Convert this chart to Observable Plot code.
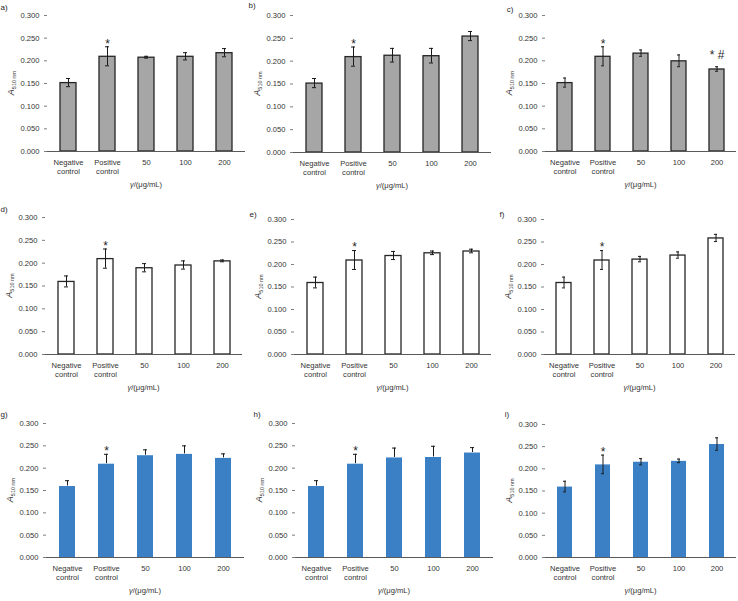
<!DOCTYPE html>
<html><head><meta charset="utf-8">
<script src="https://cdn.jsdelivr.net/npm/d3@7"></script>
<script src="https://cdn.jsdelivr.net/npm/@observablehq/plot@0.6"></script>
<style>
body{margin:0;background:#fff;}
#wrap{position:relative;width:738px;height:601px;overflow:hidden;font-family:"Liberation Sans",Arial,sans-serif;}
#wrap svg{position:absolute;overflow:visible;}
</style></head><body><div id="wrap"></div>
<script>
// ---- data ----
const categories = ["Negative\ncontrol", "Positive\ncontrol", "50", "100", "200"];
const yTicks = [0, 0.05, 0.1, 0.15, 0.2, 0.25, 0.3];
const panelNames = ["a)", "b)", "c)", "d)", "e)", "f)", "g)", "h)", "i)"];
const xTitleSymbol = "γ";
const xTitleUnit = "/(μg/mL)";
const yTitleMain = "A";
const yTitleSub = "510 nm";

const meansA = [0.152, 0.210, 0.208, 0.210, 0.218];
const errsA  = [0.009, 0.021, 0.002, 0.008, 0.009];
const meansB = [0.152, 0.210, 0.213, 0.212, 0.255];
const errsB  = [0.010, 0.021, 0.015, 0.016, 0.010];
const meansC = [0.152, 0.210, 0.217, 0.200, 0.182];
const errsC  = [0.010, 0.021, 0.007, 0.013, 0.005];
const meansD = [0.160, 0.210, 0.190, 0.196, 0.205];
const errsD  = [0.012, 0.021, 0.009, 0.009, 0.002];
const meansE = [0.160, 0.210, 0.220, 0.226, 0.230];
const errsE  = [0.012, 0.021, 0.009, 0.004, 0.004];
const meansF = [0.160, 0.210, 0.212, 0.221, 0.259];
const errsF  = [0.012, 0.021, 0.006, 0.007, 0.008];
const meansG = [0.160, 0.210, 0.229, 0.232, 0.223];
const errsG  = [0.012, 0.021, 0.012, 0.018, 0.009];
const meansH = [0.160, 0.210, 0.224, 0.225, 0.235];
const errsH  = [0.012, 0.021, 0.021, 0.024, 0.011];
const meansI = [0.160, 0.210, 0.216, 0.218, 0.256];
const errsI  = [0.012, 0.021, 0.007, 0.004, 0.014];

const annotStd = ["", "*", "", "", ""];
const annotC   = ["", "*", "", "", "* #"];

// ---- styles & layout ----
const styles = {
  gray:  {fill: "#a6a6a6", stroke: "#262626", strokeWidth: 1.3, err: "both"},
  white: {fill: "#ffffff", stroke: "#262626", strokeWidth: 1.3, err: "both"},
  blue:  {fill: "#3b80c5", stroke: "none", strokeWidth: 0, err: "plus"},
  blueBoth: {fill: "#3b80c5", stroke: "none", strokeWidth: 0, err: "both"}
};

const panels = [
  {name: panelNames[0], means: meansA, errs: errsA, annot: annotStd, style: "gray",  ax: 47,  w: 198, top: 0,   yTop: 15,  yBot: 151, lx: 4,   ly: 8},
  {name: panelNames[1], means: meansB, errs: errsB, annot: annotStd, style: "gray",  ax: 293, w: 198, top: 0,   yTop: 15,  yBot: 152, lx: 252, ly: 6},
  {name: panelNames[2], means: meansC, errs: errsC, annot: annotC,   style: "gray",  ax: 545, w: 191, top: 0,   yTop: 15,  yBot: 151, lx: 510, ly: 10},
  {name: panelNames[3], means: meansD, errs: errsD, annot: annotStd, style: "white", ax: 45,  w: 197, top: 200, yTop: 217, yBot: 354, lx: 4,   ly: 210},
  {name: panelNames[4], means: meansE, errs: errsE, annot: annotStd, style: "white", ax: 294, w: 197, top: 200, yTop: 219, yBot: 354, lx: 253, ly: 215},
  {name: panelNames[5], means: meansF, errs: errsF, annot: annotStd, style: "white", ax: 544, w: 191, top: 200, yTop: 219, yBot: 354, lx: 502, ly: 215},
  {name: panelNames[6], means: meansG, errs: errsG, annot: annotStd, style: "blue",  ax: 46,  w: 198, top: 400, yTop: 423, yBot: 557, lx: 4,   ly: 415},
  {name: panelNames[7], means: meansH, errs: errsH, annot: annotStd, style: "blue",  ax: 295, w: 198, top: 400, yTop: 423, yBot: 557, lx: 257, ly: 415},
  {name: panelNames[8], means: meansI, errs: errsI, annot: annotStd, style: "blueBoth", ax: 545, w: 191, top: 400, yTop: 424, yBot: 557, lx: 507, ly: 415}
];

const FONT = '"Liberation Sans", Arial, sans-serif';
const TXT = "#333333";
const wrap = document.getElementById("wrap");
const ML = 47, H = 200;

for (const p of panels) {
  const st = styles[p.style];
  const rows = categories.map((c, i) => ({cat: c, v: p.means[i], e: p.errs[i], a: p.annot[i]}));
  const mt = p.yTop - p.top;
  const mb = H - (p.yBot - p.top);
  const lower = st.err === "both" ? (d => d.v - d.e) : (d => d.v);
  const upper = d => d.v + d.e;
  const marks = [
    Plot.barY(rows, {x: "cat", y: "v", fill: st.fill, stroke: st.stroke, strokeWidth: st.strokeWidth, insetTop: 0.5, insetBottom: 0}),
    Plot.ruleX(rows, {x: "cat", y1: lower, y2: upper, stroke: "#1a1a1a", strokeWidth: 1}),
    Plot.tickY(rows, {x: "cat", y: upper, stroke: "#1a1a1a", strokeWidth: 1, insetLeft: 6, insetRight: 6})
  ];
  if (st.err === "both") marks.push(Plot.tickY(rows, {x: "cat", y: lower, stroke: "#1a1a1a", strokeWidth: 1, insetLeft: 6, insetRight: 6}));
  marks.push(
    Plot.text(rows.filter(d => d.a === "*"), {x: "cat", y: upper, text: "a", dy: -3, fontSize: 12, fill: "#262626"}),
    Plot.text(rows.filter(d => d.a !== "" && d.a !== "*"), {x: "cat", y: upper, text: "a", dy: -12, fontSize: 12, fill: "#262626"}),
    Plot.axisY({ticks: yTicks, tickFormat: d3.format(".3f"), tickSize: 3, tickPadding: 5, stroke: "#7f7f7f", fill: TXT, label: null}),
    Plot.axisX({tickSize: 0, tickPadding: 6, lineHeight: 1.3, fill: TXT, label: null}),
    Plot.ruleX([0], {frameAnchor: "left", stroke: "#7f7f7f"}),
    Plot.ruleY([0], {stroke: "#595959", strokeWidth: 1})
  );
  const svg = Plot.plot({
    width: ML + p.w + 2, height: H,
    marginLeft: ML, marginRight: 2, marginTop: mt, marginBottom: mb,
    x: {domain: categories, paddingInner: 0.6, paddingOuter: 0.3},
    y: {domain: [0, 0.3]},
    style: {fontFamily: FONT, fontSize: "7.6px", background: "transparent", overflow: "visible"},
    marks
  });
  const left = p.ax - ML;
  svg.style.left = left + "px";
  svg.style.top = p.top + "px";
  const s = d3.select(svg);
  // y-axis title
  const yt = s.append("text")
    .attr("transform", `translate(${ML - 33},${(mt + (H - mb)) / 2}) rotate(-90)`)
    .attr("text-anchor", "middle").attr("font-family", FONT).attr("fill", TXT);
  yt.append("tspan").attr("font-style", "italic").attr("font-size", 9).text(yTitleMain);
  yt.append("tspan").attr("font-size", 5.5).attr("dy", 2).text(yTitleSub);
  // x-axis title
  const xt = s.append("text")
    .attr("x", ML + p.w / 2).attr("y", (p.yBot - p.top) + 34)
    .attr("text-anchor", "middle").attr("dominant-baseline", "middle")
    .attr("font-family", FONT).attr("font-size", 7.6).attr("fill", TXT);
  xt.append("tspan").attr("font-style", "italic").text(xTitleSymbol);
  xt.append("tspan").text(xTitleUnit);
  // panel label
  s.append("text").attr("x", p.lx - left).attr("y", p.ly - p.top)
    .attr("dominant-baseline", "middle").attr("font-family", FONT)
    .attr("font-size", 8).attr("fill", "#262626").text(p.name);
  wrap.appendChild(svg);
}
</script></body></html>
